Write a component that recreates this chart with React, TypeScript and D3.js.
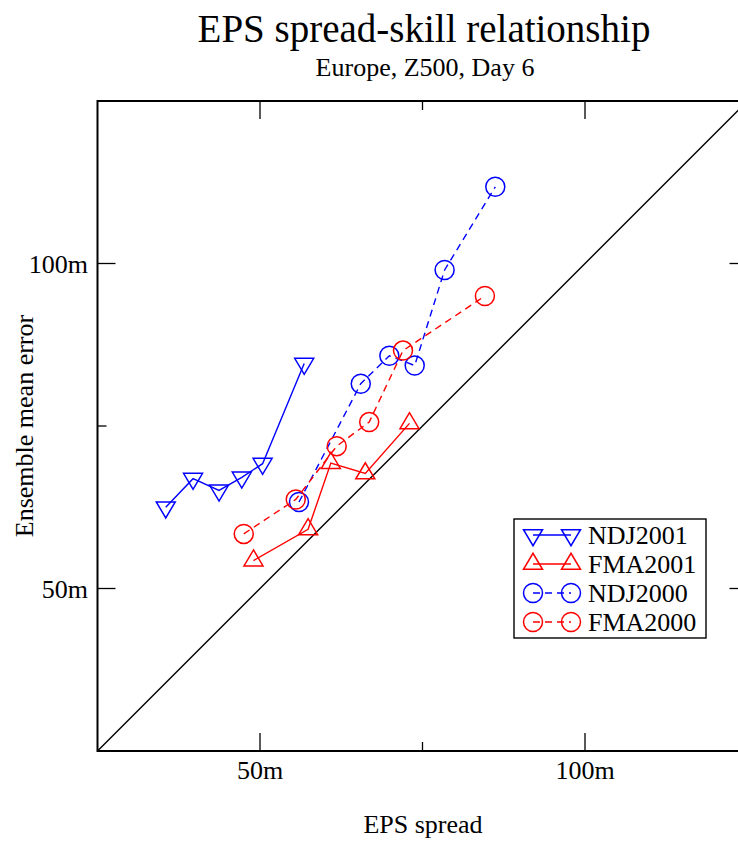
import React from "react";
import * as d3 from "d3";

// EPS spread (x) vs ensemble mean error (y), metres
const ndj2001Spread = [35.5, 39.7, 43.7, 47.2, 50.4, 56.8];
const ndj2001Error = [62.5, 66.9, 65.1, 67.1, 69.2, 84.6];

const fma2001Spread = [49.0, 57.4, 60.9, 66.2, 73.0];
const fma2001Error = [54.3, 59.1, 69.3, 67.7, 75.4];

const ndj2000Spread = [56.0, 65.5, 69.9, 73.8, 78.4, 86.2];
const ndj2000Error = [63.3, 81.5, 85.8, 84.3, 99.0, 111.8];

const fma2000Spread = [47.5, 55.5, 61.8, 66.8, 72.0, 84.6];
const fma2000Error = [58.4, 63.7, 71.9, 75.6, 86.6, 95.0];

const axisDomain = [25, 125];
const majorTicks = [50, 100];
const minorTicks = [75];
const tickLabels = ["50m", "100m"];

type Marker = "down" | "up" | "circle";
type Series = {
  name: string;
  xs: number[];
  ys: number[];
  color: string;
  marker: Marker;
  dashed: boolean;
};

const series: Series[] = [
  { name: "NDJ2001", xs: ndj2001Spread, ys: ndj2001Error, color: "#0000ff", marker: "down", dashed: false },
  { name: "FMA2001", xs: fma2001Spread, ys: fma2001Error, color: "#ff0000", marker: "up", dashed: false },
  { name: "NDJ2000", xs: ndj2000Spread, ys: ndj2000Error, color: "#0000ff", marker: "circle", dashed: true },
  { name: "FMA2000", xs: fma2000Spread, ys: fma2000Error, color: "#ff0000", marker: "circle", dashed: true },
];

const FONT = "'Liberation Serif', 'Times New Roman', serif";
const DASH = "7,5";
const LABEL_SIZE = 26;

function MarkerShape({ kind, cx, cy, color }: { kind: Marker; cx: number; cy: number; color: string }) {
  if (kind === "circle") {
    return <circle cx={cx} cy={cy} r={9.5} fill="none" stroke={color} strokeWidth={1.5} />;
  }
  const half = 9.5;
  const h = 16;
  const pts =
    kind === "down"
      ? [
          [cx - half, cy - h / 3],
          [cx + half, cy - h / 3],
          [cx, cy + (2 * h) / 3],
        ]
      : [
          [cx - half, cy + h / 3],
          [cx + half, cy + h / 3],
          [cx, cy - (2 * h) / 3],
        ];
  return (
    <polygon
      points={pts.map((p) => p.join(",")).join(" ")}
      fill="none"
      stroke={color}
      strokeWidth={1.5}
    />
  );
}

export default function App() {
  const width = 738;
  const height = 841;
  const left = 97.5;
  const right = 747.5;
  const top = 101;
  const bottom = 751;

  const x = d3.scaleLinear().domain(axisDomain).range([left, right]);
  const y = d3.scaleLinear().domain(axisDomain).range([bottom, top]);

  const line = d3
    .line<[number, number]>()
    .x((d) => x(d[0]))
    .y((d) => y(d[1]));

  const majorLen = 18;
  const minorLen = 9;

  const legendX = 514;
  const legendY = 519;
  const legendW = 192;
  const legendH = 119;
  const rowH = 29;

  return (
    <svg
      width={width}
      height={height}
      style={{ position: "absolute", left: 0, top: 0, background: "#fff" }}
      fontFamily={FONT}
    >
      <rect x={0} y={0} width={width} height={height} fill="#fff" />
      <text x={424} y={42} textAnchor="middle" fontSize={39}>
        EPS spread-skill relationship
      </text>
      <text x={425} y={76} textAnchor="middle" fontSize={LABEL_SIZE}>
        Europe, Z500, Day 6
      </text>

      {/* diagonal: spread equals error */}
      <line
        x1={x(axisDomain[0])}
        y1={y(axisDomain[0])}
        x2={x(axisDomain[1])}
        y2={y(axisDomain[1])}
        stroke="#000"
        strokeWidth={1.4}
      />

      {/* ticks on all four sides */}
      {majorTicks.concat(minorTicks).map((t) => {
        const len = majorTicks.includes(t) ? majorLen : minorLen;
        return (
          <g key={"t" + t} stroke="#000" strokeWidth={1.3}>
            <line x1={x(t)} x2={x(t)} y1={bottom} y2={bottom - len} />
            <line x1={x(t)} x2={x(t)} y1={top} y2={top + len} />
            <line x1={left} x2={left + len} y1={y(t)} y2={y(t)} />
            <line x1={right} x2={right - len} y1={y(t)} y2={y(t)} />
          </g>
        );
      })}

      {majorTicks.map((t, i) => (
        <g key={"l" + t} fontSize={LABEL_SIZE}>
          <text x={x(t)} y={779} textAnchor="middle">
            {tickLabels[i]}
          </text>
          <text x={88} y={y(t) + 9} textAnchor="end">
            {tickLabels[i]}
          </text>
        </g>
      ))}

      <text x={423} y={833} textAnchor="middle" fontSize={LABEL_SIZE}>
        EPS spread
      </text>
      <text
        transform={`translate(33,${(top + bottom) / 2}) rotate(-90)`}
        textAnchor="middle"
        fontSize={LABEL_SIZE}
      >
        Ensemble mean error
      </text>

      {series.map((s) => {
        const pts = s.xs.map((v, i) => [v, s.ys[i]] as [number, number]);
        return (
          <g key={s.name}>
            <path
              d={line(pts) ?? ""}
              fill="none"
              stroke={s.color}
              strokeWidth={1.4}
              strokeDasharray={s.dashed ? DASH : undefined}
            />
            {pts.map((p, i) => (
              <MarkerShape key={i} kind={s.marker} cx={x(p[0])} cy={y(p[1])} color={s.color} />
            ))}
          </g>
        );
      })}

      {/* frame */}
      <rect
        x={left}
        y={top}
        width={right - left}
        height={bottom - top}
        fill="none"
        stroke="#000"
        strokeWidth={2}
      />

      {/* legend */}
      <rect x={legendX} y={legendY} width={legendW} height={legendH} fill="#fff" stroke="#000" strokeWidth={1.4} />
      {series.map((s, i) => {
        const cy = legendY + 16 + i * rowH;
        const m1 = 533;
        const m2 = 571;
        return (
          <g key={"lg" + s.name}>
            <line
              x1={m1}
              x2={m2}
              y1={cy}
              y2={cy}
              stroke={s.color}
              strokeWidth={1.4}
              strokeDasharray={s.dashed ? DASH : undefined}
            />
            <MarkerShape kind={s.marker} cx={m1} cy={cy} color={s.color} />
            <MarkerShape kind={s.marker} cx={m2} cy={cy} color={s.color} />
            <text x={588} y={cy + 9} fontSize={LABEL_SIZE}>
              {s.name}
            </text>
          </g>
        );
      })}
    </svg>
  );
}
